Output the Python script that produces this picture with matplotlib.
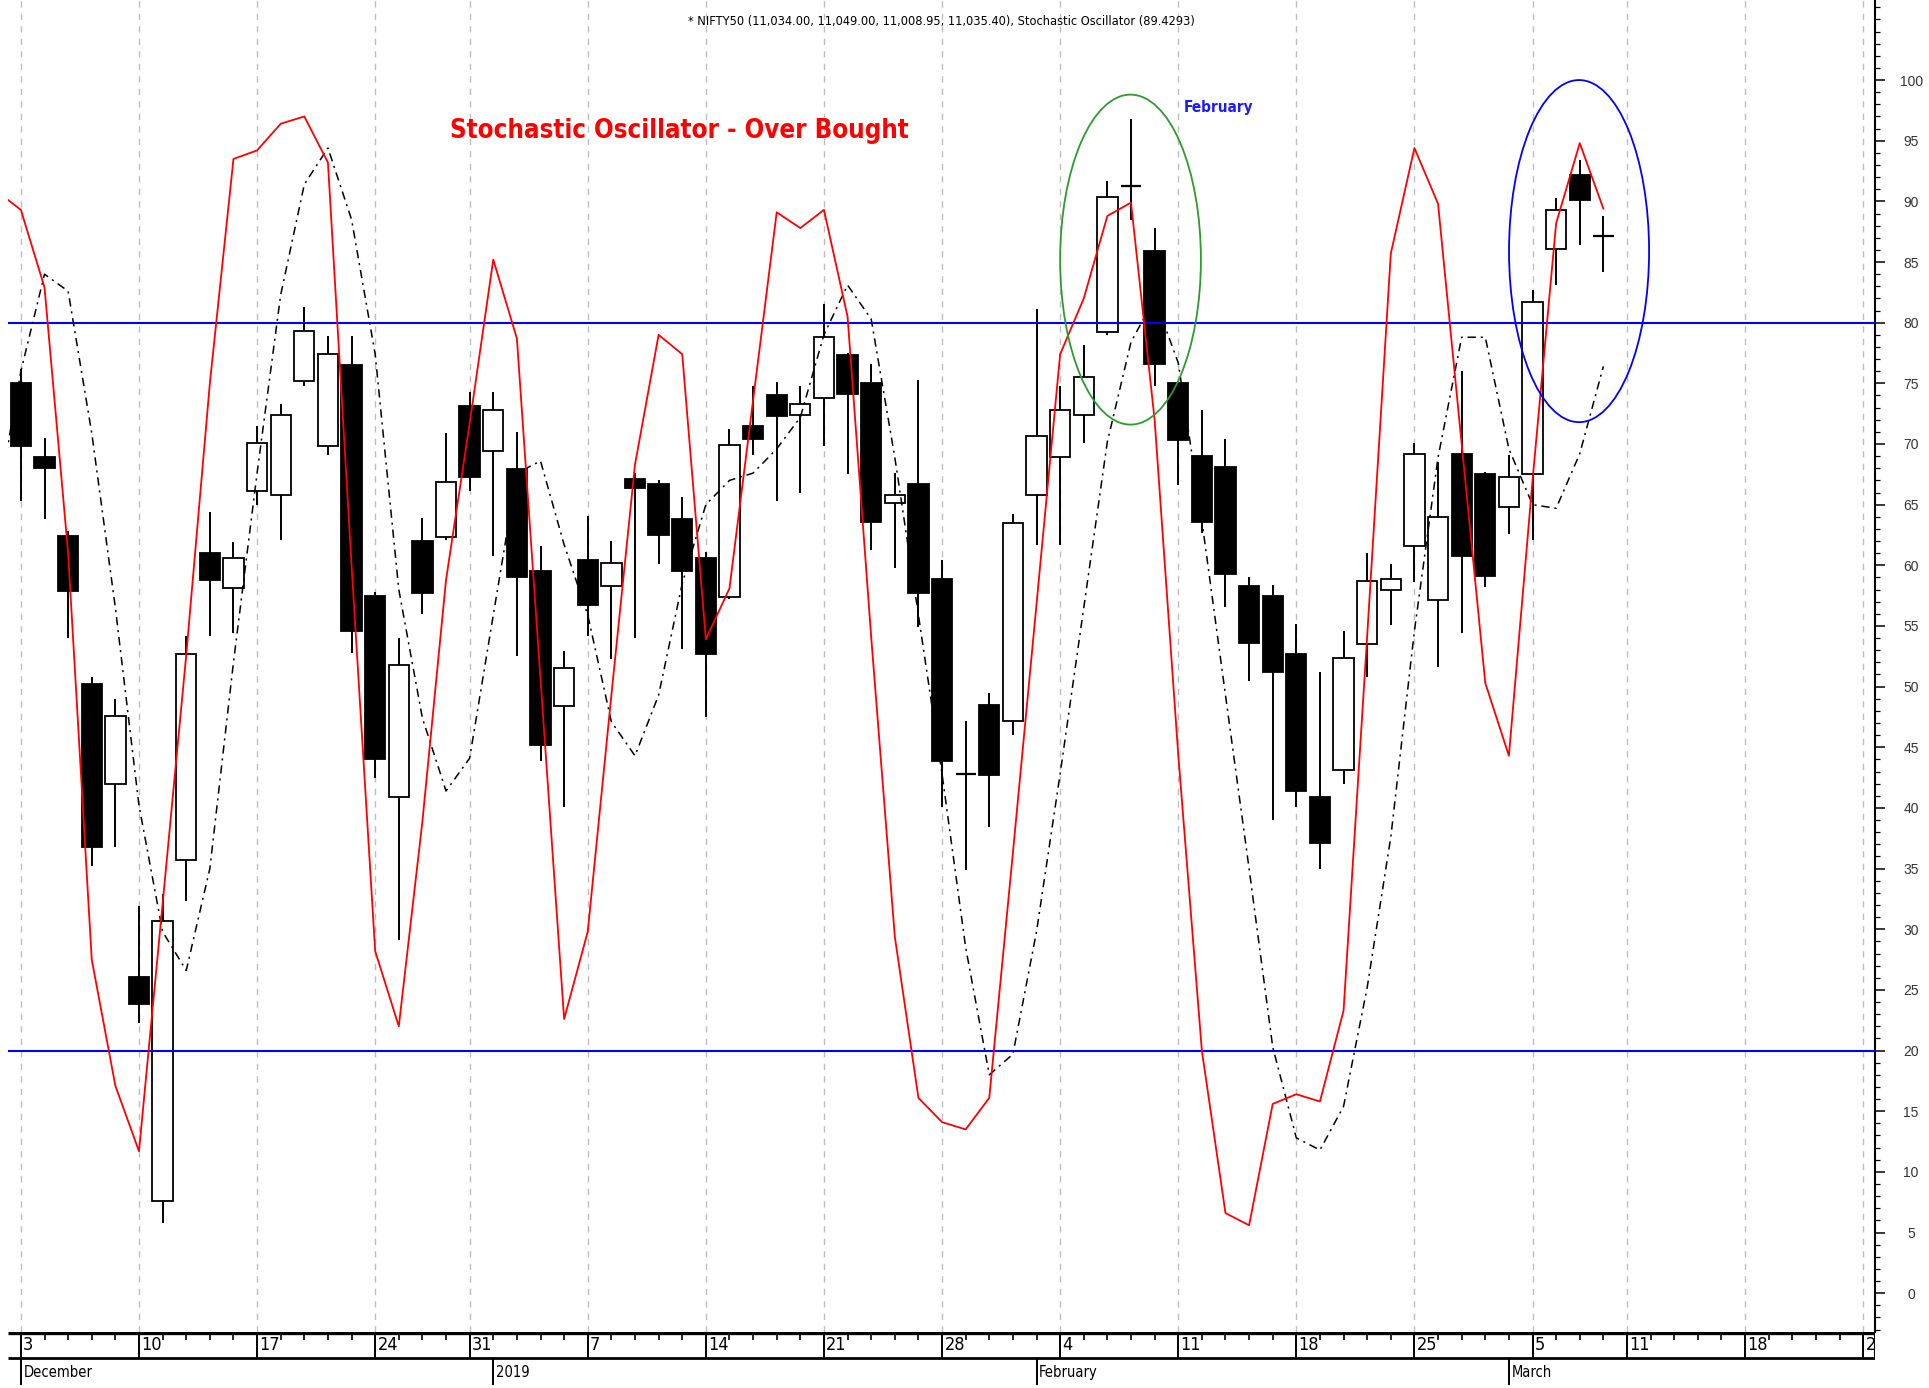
import numpy as np
import pandas as pd
import matplotlib
matplotlib.use('Agg')
import matplotlib.pyplot as plt
from matplotlib.patches import Rectangle, Ellipse
from matplotlib.ticker import MultipleLocator
from matplotlib import font_manager
from matplotlib.font_manager import FontProperties

plt.rcParams['lines.scale_dashes'] = False


def _is_narrow(f):
    st = f.stretch
    if isinstance(st, str):
        narrow_st = st in ('condensed', 'semi-condensed', 'extra-condensed', 'ultra-condensed')
    else:
        narrow_st = st < 500
    return ('Narrow' in f.name) or ('Condensed' in f.name) or narrow_st


def _weight(f):
    w = f.weight
    if isinstance(w, str):
        return {'bold': 700, 'normal': 400, 'regular': 400, 'medium': 500,
                'semibold': 600, 'light': 300, 'heavy': 800, 'black': 900}.get(w, 400)
    return w


pref = ['Liberation Sans Narrow', 'Arial Narrow', 'DejaVu Sans', 'Noto Sans', 'Open Sans', 'Roboto', 'Lato', 'Inter']
cands = [f for f in font_manager.fontManager.ttflist if _is_narrow(f) and f.style == 'normal']


def _pick(bold):
    best = None
    for name in pref:
        for f in cands:
            if f.name.startswith(name.split()[0]) and ((_weight(f) >= 700) == bold):
                if best is None:
                    best = f
        if best is not None:
            break
    if best is None:
        for f in cands:
            if (_weight(f) >= 700) == bold:
                best = f
                break
    return best


_nb = _pick(True)
_nr = _pick(False)


def narrow_fp(size, bold=False):
    f = _nb if bold else _nr
    if f is not None:
        return FontProperties(fname=f.fname, size=size)
    return FontProperties(family=['Liberation Sans', 'DejaVu Sans'], size=size * 0.85,
                          weight='bold' if bold else 'normal')


# ---------------- data ----------------
holidays = ['2018-12-25', '2019-03-04']
trade_days = pd.bdate_range('2018-12-03', '2019-03-08')
trade_days = trade_days[~trade_days.isin(pd.to_datetime(holidays))]
future_days = pd.bdate_range('2019-03-11', '2019-03-29')

opens = [75.0, 68.9, 62.4, 50.2, 42.0, 26.1, 7.6, 35.7, 61.0, 58.1,
         66.1, 65.8, 75.2, 69.8, 76.5, 57.5, 40.9, 62.0, 62.3, 73.1,
         69.4, 67.9, 59.5, 48.4, 60.4, 58.3, 67.1, 66.7, 63.8, 60.6,
         57.4, 71.5, 74.0, 72.4, 73.8, 77.3, 75.0, 65.1, 66.7, 58.9,
         42.9, 48.5, 47.2, 65.8, 68.9, 72.4, 79.2, 91.3, 85.9, 75.0,
         69.0, 68.1, 58.3, 57.5, 52.7, 40.9, 43.1, 53.5, 58.0, 61.6,
         57.1, 69.2, 67.5, 64.8, 67.5, 86.1, 92.2, 87.1]
highs = [76.2, 70.5, 62.8, 50.8, 49.0, 31.9, 32.9, 54.2, 64.4, 61.9,
         71.5, 73.3, 81.3, 78.9, 78.9, 57.8, 54.0, 63.9, 70.9, 74.3,
         74.3, 71.0, 61.6, 52.9, 64.1, 62.0, 67.6, 67.0, 65.6, 61.1,
         71.2, 74.8, 75.1, 74.8, 81.5, 77.5, 76.6, 67.6, 75.3, 60.4,
         47.2, 49.5, 64.2, 81.1, 74.8, 78.2, 91.7, 96.8, 87.8, 75.2,
         72.8, 70.4, 59.0, 58.4, 55.2, 51.2, 54.6, 61.0, 60.1, 70.1,
         68.5, 76.0, 67.7, 69.1, 82.7, 90.3, 93.4, 88.8]
lows = [65.3, 63.8, 54.0, 35.2, 36.8, 22.3, 5.8, 32.3, 54.2, 54.4,
        65.0, 62.1, 74.8, 69.1, 52.8, 42.5, 29.1, 56.0, 62.1, 66.1,
        60.8, 52.5, 43.9, 40.1, 54.2, 52.3, 54.0, 60.1, 53.1, 47.5,
        57.2, 69.1, 65.3, 66.0, 69.8, 67.5, 61.3, 59.8, 54.9, 40.1,
        34.9, 38.4, 46.0, 61.7, 61.7, 70.1, 79.0, 88.5, 74.8, 66.6,
        62.7, 56.6, 50.5, 39.0, 40.1, 35.0, 42.0, 50.8, 55.1, 58.6,
        51.6, 54.4, 58.2, 62.6, 62.1, 83.1, 86.4, 84.2]
closes = [69.8, 68.0, 57.9, 36.8, 47.6, 23.8, 30.7, 52.7, 58.8, 60.6,
          70.1, 72.4, 79.3, 77.4, 54.6, 44.0, 51.8, 57.7, 66.9, 67.3,
          72.8, 59.0, 45.2, 51.5, 56.7, 60.2, 66.4, 62.5, 59.5, 52.7,
          69.9, 70.4, 72.3, 73.3, 78.8, 74.1, 63.6, 65.8, 57.7, 43.9,
          42.7, 42.7, 63.5, 70.7, 72.8, 75.5, 90.4, 91.2, 76.6, 70.3,
          63.6, 59.3, 53.6, 51.2, 41.4, 37.1, 52.4, 58.7, 58.9, 69.2,
          64.0, 60.8, 59.1, 67.3, 81.7, 89.3, 90.1, 87.2]

# %K and %D; the first value belongs to the session before the first visible candle
stoch_k = [90.8, 89.3, 82.9, 61.0, 27.5, 17.1, 11.7, 32.1, 52.6, 75.0, 93.5,
           94.2, 96.4, 97.0, 93.2, 60.0, 28.2, 22.0, 38.9, 58.8, 71.7,
           85.2, 78.7, 50.6, 22.6, 29.8, 49.3, 68.3, 79.0, 77.4, 53.9,
           58.1, 73.6, 89.1, 87.8, 89.3, 80.5, 54.1, 29.4, 16.1, 14.1,
           13.5, 16.1, 36.3, 56.8, 77.4, 82.0, 88.8, 89.9, 72.0, 44.4,
           20.0, 6.6, 5.6, 15.6, 16.4, 15.8, 23.3, 54.2, 85.7, 94.4,
           89.8, 70.0, 50.3, 44.3, 67.0, 88.2, 94.8, 89.4]
stoch_d = [65.0, 76.0, 84.0, 82.6, 70.9, 56.5, 40.2, 29.8, 26.6, 35.0, 52.0,
           67.6, 82.3, 91.4, 94.4, 88.5, 77.4, 58.0, 47.4, 41.4, 44.1,
           55.9, 67.6, 68.6, 61.7, 55.9, 47.1, 44.3, 49.3, 58.5, 65.0,
           67.0, 67.6, 69.6, 72.2, 79.0, 83.1, 80.3, 68.9, 55.9, 42.8,
           28.5, 18.0, 19.7, 29.8, 42.8, 56.5, 70.2, 78.4, 82.0, 76.7,
           63.7, 49.3, 35.0, 20.3, 12.8, 11.8, 15.4, 25.2, 37.6, 54.6,
           68.9, 78.8, 78.8, 69.6, 65.0, 64.7, 69.2, 76.4]

levels = [80, 20]
month_labels = ['December', '2019', 'February', 'March']
title_text = "* NIFTY50 (11,034.00, 11,049.00, 11,008.95, 11,035.40), Stochastic Oscillator (89.4293)"
headline = "Stochastic Oscillator - Over Bought"
month_note = "February"

# ---------------- layout ----------------
W, H = 1929, 1388
fig = plt.figure(figsize=(W / 100, H / 100), dpi=100)
left_px, right_px, bottom_px = 8.3, 1875.0, 1332.0
ax = fig.add_axes([left_px / W, (H - bottom_px) / H, (right_px - left_px) / W, bottom_px / H])
axd = fig.add_axes([left_px / W, 0, (right_px - left_px) / W, (H - bottom_px) / H])

all_days = trade_days.append(future_days)
n = len(trade_days)
XMIN, XMAX = -0.533, 78.5
ax.set_xlim(XMIN, XMAX)
ax.set_ylim(-3.2, 106.6)
axd.set_xlim(XMIN, XMAX)
axd.set_ylim(0, 1)
axd.axis('off')

week_idx = [i for i in range(len(all_days))
            if i == 0 or all_days[i].isocalendar()[1] != all_days[i - 1].isocalendar()[1]]
month_idx = [i for i in range(len(all_days)) if i == 0 or all_days[i].month != all_days[i - 1].month]

# gridlines
for wi in week_idx:
    ax.axvline(wi, color='#bdbdbd', lw=1.0, ls=(0, (4.5, 4.5)), zorder=0)

# candles
cw = 0.86
for i in range(n):
    o, h, l, c = opens[i], highs[i], lows[i], closes[i]
    ax.vlines(i, l, h, color='black', lw=1.4, zorder=3)
    if abs(c - o) < 0.35:
        ax.hlines((o + c) / 2, i - cw / 2, i + cw / 2, color='black', lw=1.6, zorder=4)
    else:
        fc = 'black' if c < o else 'white'
        ax.add_patch(Rectangle((i - cw / 2, min(o, c)), cw, abs(c - o), facecolor=fc,
                               edgecolor='black', lw=1.3, zorder=4))

for lv in levels:
    ax.axhline(lv, color='#0000ff', lw=1.5, zorder=4.5)

xk = np.arange(-1, n)
ax.plot(xk, stoch_d, color='black', lw=1.1, ls=(0, (6, 3.5, 1.5, 3.5)), zorder=5)
ax.plot(xk, stoch_k, color='#ff0000', lw=1.3, zorder=6)

ax.add_patch(Ellipse((46.98, 85.2), 5.96, 27.2, fill=False, edgecolor='#2f9a2f', lw=1.3, zorder=7))
ax.add_patch(Ellipse((65.97, 85.9), 5.93, 28.2, fill=False, edgecolor='#0000ff', lw=1.3, zorder=7))

# texts
ax.text(27.86, 95.8, headline, color='#ff0000', fontproperties=narrow_fp(18.5, True),
        ha='center', va='center', zorder=8)
ax.text(50.7, 97.7, month_note, color='#1a1aff', fontproperties=narrow_fp(11, True),
        ha='center', va='center', zorder=8)
fig.text(0.488, 1 - 22 / H, title_text, color='black', fontproperties=narrow_fp(9.2),
         ha='center', va='center')

# axes styling
for s in ['top', 'left', 'bottom']:
    ax.spines[s].set_visible(False)
ax.spines['right'].set_linewidth(1.5)
ax.xaxis.set_visible(False)
ax.yaxis.tick_right()
ax.yaxis.set_minor_locator(MultipleLocator(1))
ax.set_yticks(np.arange(0, 101, 5))
ax.tick_params(axis='y', which='major', length=7, width=1.1, pad=19, labelsize=10,
               labelcolor='#333333')
ax.tick_params(axis='y', which='minor', length=3.5, width=0.9)
for lbl in ax.get_yticklabels():
    lbl.set_horizontalalignment('center')
    lbl.set_family(['Liberation Sans', 'DejaVu Sans'])

# date panel
MID = 0.53
axd.hlines(0.985, XMIN, XMAX, color='black', lw=2.4)
axd.hlines(MID, XMIN, XMAX, color='black', lw=2.0)
axd.vlines(XMAX, MID, 1, color='black', lw=1.5)
for i in range(len(all_days)):
    if i in week_idx:
        axd.vlines(i, MID, 1, color='black', lw=1.4)
        axd.text(i + 0.1, (1 + MID) / 2, str(all_days[i].day), fontproperties=narrow_fp(13),
                 ha='left', va='center', clip_on=True)
    else:
        axd.vlines(i, 1 - 0.15, 1, color='black', lw=1.2)
for k, mi in enumerate(month_idx[:len(month_labels)]):
    axd.vlines(mi, 0.05, MID, color='black', lw=1.4)
    axd.text(mi + 0.1, MID / 2 + 0.02, month_labels[k], fontproperties=narrow_fp(10.5),
             ha='left', va='center', clip_on=True)

fig.savefig('out.png', dpi=100)
